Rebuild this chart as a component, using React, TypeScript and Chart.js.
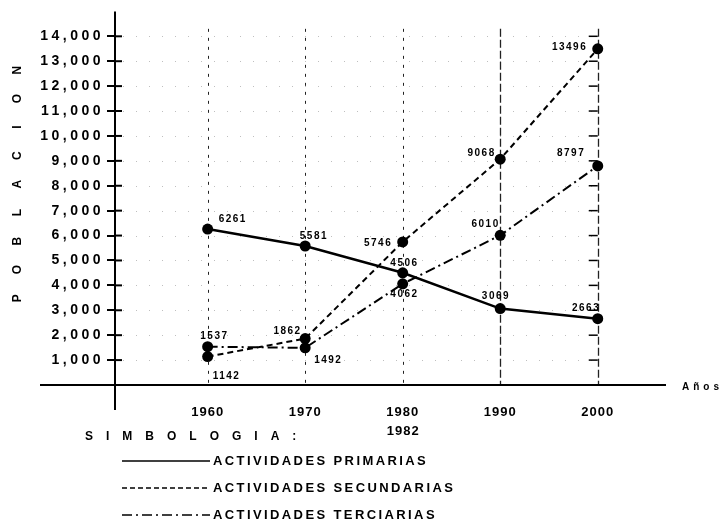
import React, { useEffect, useRef } from 'react';
import { Chart, registerables } from 'chart.js';

Chart.register(...registerables);

// ---------- DATA ----------
const YEARS = [1960, 1970, 1980, 1990, 2000];
const PRIMARIAS = [6261, 5581, 4506, 3069, 2663];
const SECUNDARIAS = [1142, 1862, 5746, 9068, 13496];
const TERCIARIAS = [1537, 1492, 4062, 6010, 8797];
const Y_TICKS = [1000, 2000, 3000, 4000, 5000, 6000, 7000, 8000, 9000, 10000, 11000, 12000, 13000, 14000];
const SERIES_NAMES = ['ACTIVIDADES PRIMARIAS', 'ACTIVIDADES SECUNDARIAS', 'ACTIVIDADES TERCIARIAS'];
const Y_TITLE = 'POBLACION';
const X_TITLE = 'Años';
const X_SUBTITLE = '1982';
const LEGEND_TITLE = 'SIMBOLOGIA:';

// ---------- STYLE / LAYOUT ----------
const FONT = "'Liberation Sans', Arial, sans-serif";
const DASHES: number[][] = [[], [6, 4], [10, 4, 2, 4]];
const WIDTHS = [2.5, 2, 2];
// label anchor per point: [align, dx, dy]
const LABEL_POS: [CanvasTextAlign, number, number][][] = [
  [['left', 11, -10], ['center', 8, -10], ['center', 1, -10], ['center', -5, -12], ['right', 1, -10]],
  [['left', 5, 20], ['right', -5, -7], ['right', -12, 1], ['right', -6, -6], ['right', -12, -2]],
  [['center', 6, -10], ['left', 9, 12], ['center', 1, 10], ['right', -2, -11], ['right', -14, -13]],
];

function drawText(
  ctx: CanvasRenderingContext2D,
  s: string,
  x: number,
  y: number,
  font: string,
  spacing: number,
  align: CanvasTextAlign = 'left'
) {
  ctx.save();
  ctx.font = font;
  (ctx as any).letterSpacing = spacing + 'px';
  ctx.textAlign = align;
  ctx.textBaseline = 'middle';
  ctx.fillStyle = '#000';
  let xx = x;
  if (align === 'center') xx += spacing / 2;
  if (align === 'right') xx += spacing;
  ctx.fillText(s, xx, y);
  ctx.restore();
}

const decor = {
  id: 'decor',
  beforeDraw(chart: any) {
    chart.ctx.letterSpacing = '3.5px';
  },
  beforeDatasetsDraw(chart: any) {
    const ctx: CanvasRenderingContext2D = chart.ctx;
    (ctx as any).letterSpacing = '0px';
    const x = chart.scales.x;
    const y = chart.scales.y;
    const x0 = chart.chartArea.left;
    const y0 = y.getPixelForValue(0);
    ctx.save();
    // faint horizontal dotted grid
    ctx.strokeStyle = 'rgba(0,0,0,0.25)';
    ctx.lineWidth = 1;
    ctx.setLineDash([1, 12]);
    Y_TICKS.forEach((v) => {
      const py = Math.round(y.getPixelForValue(v)) + 0.5;
      ctx.beginPath();
      ctx.moveTo(x0 + 8, py);
      ctx.lineTo(x.getPixelForValue(YEARS[YEARS.length - 1]), py);
      ctx.stroke();
    });
    // vertical grid lines
    YEARS.forEach((yr, i) => {
      const px = Math.round(x.getPixelForValue(yr)) + 0.5;
      ctx.beginPath();
      ctx.strokeStyle = '#222';
      ctx.lineWidth = i >= 3 ? 1.3 : 1;
      ctx.setLineDash(i >= 3 ? [8, 3] : [3, 6]);
      ctx.moveTo(px, y.getPixelForValue(14300));
      ctx.lineTo(px, y0);
      ctx.stroke();
    });
    // small stubs on last vertical line
    ctx.setLineDash([]);
    ctx.lineWidth = 1.5;
    ctx.strokeStyle = '#000';
    const pxl = x.getPixelForValue(YEARS[YEARS.length - 1]);
    Y_TICKS.forEach((v) => {
      const py = y.getPixelForValue(v);
      ctx.beginPath();
      ctx.moveTo(pxl - 9, py);
      ctx.lineTo(pxl, py);
      ctx.stroke();
    });
    // axes
    ctx.lineWidth = 2;
    ctx.beginPath();
    ctx.moveTo(40, y0);
    ctx.lineTo(chart.chartArea.right, y0);
    ctx.stroke();
    ctx.beginPath();
    ctx.moveTo(x0, chart.chartArea.top);
    ctx.lineTo(x0, y0 + 25);
    ctx.stroke();
    // inner halves of the y ticks
    Y_TICKS.forEach((v) => {
      const py = y.getPixelForValue(v);
      ctx.beginPath();
      ctx.moveTo(x0, py);
      ctx.lineTo(x0 + 7, py);
      ctx.stroke();
    });
    ctx.restore();
  },
  afterDatasetsDraw(chart: any) {
    chart.ctx.letterSpacing = '1px';
  },
  afterDraw(chart: any) {
    const ctx: CanvasRenderingContext2D = chart.ctx;
    const x = chart.scales.x;
    const y = chart.scales.y;
    const y0 = y.getPixelForValue(0);
    // data labels
    const labelFont = `bold 10px ${FONT}`;
    chart.data.datasets.forEach((ds: any, si: number) => {
      ds.data.forEach((pt: any, i: number) => {
        const [align, dx, dy] = LABEL_POS[si][i];
        drawText(ctx, String(pt.y), x.getPixelForValue(pt.x) + dx, y.getPixelForValue(pt.y) + dy, labelFont, 1.5, align);
      });
    });
    // y title, rotated letters
    ctx.save();
    ctx.font = `bold 12px ${FONT}`;
    (ctx as any).letterSpacing = '0px';
    ctx.textAlign = 'center';
    ctx.textBaseline = 'middle';
    ctx.fillStyle = '#000';
    const n = Y_TITLE.length;
    const cy = (chart.chartArea.top + y0) / 2 - 14;
    for (let i = 0; i < n; i++) {
      ctx.save();
      ctx.translate(18, cy + ((n - 1) / 2 - i) * 28.5);
      ctx.rotate(-Math.PI / 2);
      ctx.fillText(Y_TITLE[i], 0, 0);
      ctx.restore();
    }
    ctx.restore();
    // x title
    drawText(ctx, X_TITLE, 682, y0 + 2, `bold 10px ${FONT}`, 4, 'left');
    drawText(ctx, X_SUBTITLE, x.getPixelForValue(1980), 431, `bold 13px ${FONT}`, 1, 'center');
    // legend
    drawText(ctx, LEGEND_TITLE, 85, 437, `bold 12px ${FONT}`, 13, 'left');
    chart.data.datasets.forEach((ds: any, si: number) => {
      const ry = 461 + si * 27;
      ctx.save();
      ctx.strokeStyle = '#000';
      ctx.lineWidth = 1.6;
      ctx.setLineDash(si === 1 ? [5, 3] : ds.borderDash || []);
      ctx.beginPath();
      ctx.moveTo(122, ry);
      ctx.lineTo(210, ry);
      ctx.stroke();
      ctx.restore();
      drawText(ctx, ds.label, 213, ry, `bold 13px ${FONT}`, 2.4, 'left');
    });
    (ctx as any).letterSpacing = '0px';
  },
};

export default function App() {
  const ref = useRef<HTMLCanvasElement>(null);
  useEffect(() => {
    const series = [PRIMARIAS, SECUNDARIAS, TERCIARIAS];
    const chart = new Chart(ref.current as HTMLCanvasElement, {
      type: 'line',
      data: {
        datasets: series.map((vals, si) => ({
          label: SERIES_NAMES[si],
          data: YEARS.map((yr, i) => ({ x: yr, y: vals[i] })),
          borderColor: '#000',
          backgroundColor: '#000',
          borderWidth: WIDTHS[si],
          borderDash: DASHES[si],
          pointRadius: 5.5,
          pointBackgroundColor: '#000',
          pointBorderWidth: 0,
          tension: 0,
          fill: false,
        })),
      },
      options: {
        responsive: false,
        animation: false,
        devicePixelRatio: 1,
        layout: { padding: { left: 0, top: 8, right: 56, bottom: 0 } },
        plugins: { legend: { display: false }, tooltip: { enabled: false } },
        scales: {
          x: {
            type: 'linear',
            min: 1950.5,
            max: 2007,
            afterFit: (s: any) => {
              s.height = 136;
            },
            afterBuildTicks: (s: any) => {
              s.ticks = YEARS.map((v) => ({ value: v }));
            },
            grid: { display: false },
            border: { display: false },
            ticks: {
              z: 1,
              padding: 12,
              color: '#000',
              autoSkip: false,
              maxRotation: 0,
              font: { family: FONT, size: 13, weight: 'bold' },
              callback: (v: any) => String(v),
            },
          },
          y: {
            min: 0,
            max: 15000,
            afterFit: (s: any) => {
              s.width = 115;
            },
            afterBuildTicks: (s: any) => {
              s.ticks = Y_TICKS.map((v) => ({ value: v }));
            },
            grid: { display: true, drawOnChartArea: false, drawTicks: true, tickLength: 8, color: '#000', lineWidth: 2 },
            border: { display: false },
            ticks: {
              padding: 3,
              color: '#000',
              font: { family: FONT, size: 14, weight: 'bold' },
              callback: (v: any) => Number(v).toLocaleString('en-US'),
            },
          },
        },
      } as any,
      plugins: [decor],
    });
    return () => chart.destroy();
  }, []);
  return (
    <canvas
      ref={ref}
      width={722}
      height={521}
      style={{ position: 'fixed', left: 0, top: 0, width: 722, height: 521, background: '#fff' }}
    />
  );
}
